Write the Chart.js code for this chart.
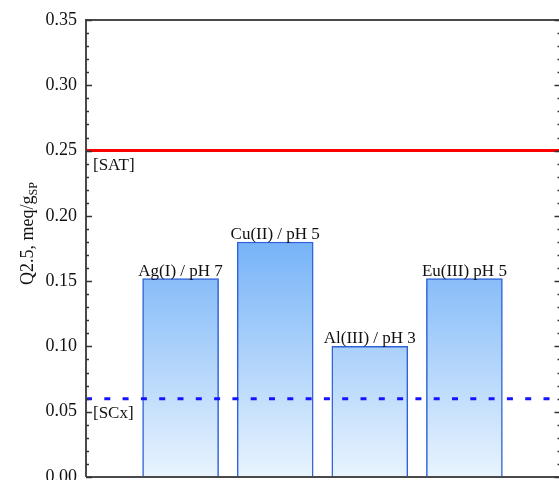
<!DOCTYPE html>
<html>
<head>
<meta charset="utf-8">
<script src="https://cdn.jsdelivr.net/npm/chart.js@4.4.1/dist/chart.umd.min.js"></script>
<style>
  html, body { margin: 0; padding: 0; background: #fff; }
  #wrap { width: 559px; height: 480px; }
</style>
</head>
<body>
<div id="wrap"><canvas id="c" width="559" height="480"></canvas></div>
<script>
// Sorption capacity per metal ion / pH condition
const categories = ['Ag(I) / pH 7', 'Cu(II) / pH 5', 'Al(III) / pH 3', 'Eu(III) pH 5'];
const positions = [1, 2, 3, 4];
const capacities = [0.152, 0.180, 0.100, 0.152];

// Horizontal reference levels
const refLabels = ['[SAT]', '[SCx]'];
const refValues = [0.25, 0.06];

// Axis settings
const yMin = 0, yMax = 0.35, yStep = 0.05, yMinorStep = 0.01;
const xMin = 0, xMax = 5;

const SERIF = '"Liberation Serif", "Times New Roman", serif';

const barData = positions.map((x, i) => ({ x: x, y: capacities[i] }));
const refLine = (v) => [{ x: xMin, y: v }, { x: xMax, y: v }];

// Vertical gradient fill, anchored to the plot area
function barFill(context) {
  const chart = context.chart;
  const area = chart.chartArea;
  if (!area) return '#9cc8f8';
  const g = chart.ctx.createLinearGradient(0, area.top, 0, area.bottom);
  g.addColorStop(0, 'rgb(10,118,242)');
  g.addColorStop(1, 'rgb(233,244,254)');
  return g;
}

// Frame, inward ticks, labels and axis title
const decorations = {
  id: 'decorations',
  afterDatasetsDraw(chart) {
    const { ctx, chartArea: a, scales } = chart;
    const y = scales.y;
    const right = a.right + 1.5; // right frame edge sits just past the canvas border
    ctx.save();

    // bar value labels
    const meta = chart.getDatasetMeta(0);
    ctx.font = '17px ' + SERIF;
    ctx.fillStyle = '#111';
    ctx.textAlign = 'center';
    ctx.textBaseline = 'alphabetic';
    meta.data.forEach((bar, i) => {
      ctx.fillText(categories[i], bar.x, bar.y - 3);
    });

    // reference line labels
    ctx.textAlign = 'left';
    refValues.forEach((v, i) => {
      ctx.fillText(refLabels[i], a.left + 7, y.getPixelForValue(v) + 19);
    });

    // frame
    ctx.strokeStyle = '#4a4a4a';
    ctx.lineWidth = 2;
    ctx.beginPath();
    ctx.moveTo(a.left, a.bottom);
    ctx.lineTo(a.left, a.top);
    ctx.lineTo(right, a.top);
    ctx.lineTo(right, a.bottom);
    ctx.lineTo(a.left, a.bottom);
    ctx.stroke();

    // inward ticks on both sides
    ctx.strokeStyle = '#333';
    ctx.lineWidth = 1.5;
    const n = Math.round((yMax - yMin) / yMinorStep);
    const perMajor = Math.round(yStep / yMinorStep);
    for (let k = 0; k <= n; k++) {
      const v = yMin + k * yMinorStep;
      const py = Math.round(y.getPixelForValue(v)) + 0.5;
      const major = k % perMajor === 0;
      const len = major ? 6 : 3;
      ctx.beginPath();
      ctx.moveTo(a.left, py);
      ctx.lineTo(a.left + len, py);
      ctx.moveTo(right, py);
      ctx.lineTo(right - len, py);
      ctx.stroke();
    }

    // y axis title with subscript
    ctx.fillStyle = '#111';
    ctx.translate(33, 285);
    ctx.rotate(-Math.PI / 2);
    ctx.font = '18px ' + SERIF;
    const main = 'Q2.5, meq/g';
    ctx.fillText(main, 0, 0);
    const w = ctx.measureText(main).width;
    ctx.font = '12px ' + SERIF;
    ctx.fillText('SP', w, 4);

    ctx.restore();
  }
};

new Chart(document.getElementById('c'), {
  data: {
    datasets: [
      {
        type: 'bar',
        data: barData,
        backgroundColor: barFill,
        borderColor: '#2f62d8',
        borderWidth: 1.5,
        borderSkipped: 'start',
        barThickness: 76,
        order: 2
      },
      {
        type: 'line',
        data: refLine(refValues[0]),
        borderColor: '#ff0000',
        borderWidth: 3,
        pointRadius: 0,
        order: 1
      },
      {
        type: 'line',
        data: refLine(refValues[1]),
        borderColor: '#1414ff',
        borderWidth: 3,
        borderDash: [6, 12.3],
        pointRadius: 0,
        order: 0
      }
    ]
  },
  options: {
    responsive: false,
    animation: false,
    events: [],
    layout: { padding: { top: 20, right: 0, bottom: 3, left: 0 } },
    plugins: { legend: { display: false }, tooltip: { enabled: false } },
    scales: {
      x: {
        type: 'linear',
        min: xMin,
        max: xMax,
        offset: false,
        display: false
      },
      y: {
        type: 'linear',
        min: yMin,
        max: yMax,
        grid: { display: false, drawTicks: false },
        border: { display: false },
        ticks: {
          stepSize: yStep,
          padding: 9,
          color: '#111',
          font: { family: SERIF, size: 18 },
          callback: (v) => v.toFixed(2)
        },
        afterFit(scale) {
          scale.width = 86;
          scale.paddingTop = 0;
          scale.paddingBottom = 0;
        }
      }
    }
  },
  plugins: [decorations]
});
</script>
</body>
</html>
